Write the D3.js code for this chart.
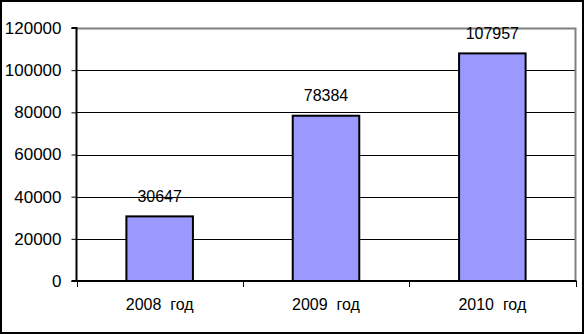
<!DOCTYPE html>
<html>
  <head>
    <meta charset="utf-8">
    <title>Bar chart by year</title>
    <script src="https://cdn.jsdelivr.net/npm/d3@7"></script>
    <style>
      body { margin: 0; background: #fff; }
      text { font-family: "Liberation Sans", Arial, sans-serif; fill: #000; }
    </style>
  </head>
  <body>
    <div id="main"></div>
    <script>
      var WIDTH = 584, HEIGHT = 334;
      var LEFT = 76.5, RIGHT = 575.5, TOP = 28, BOTTOM = 281; // plot area

      var categories = ["2008  год", "2009  год", "2010  год"];
      var values = [30647, 78384, 107957];
      var yTicks = [0, 20000, 40000, 60000, 80000, 100000, 120000];

      var svg = d3.select('#main').append('svg')
                  .attr('width', WIDTH).attr('height', HEIGHT);

      // outer frame
      svg.append('rect')
        .attr('x', 1).attr('y', 1)
        .attr('width', WIDTH - 2).attr('height', HEIGHT - 2)
        .attr('fill', '#fff').attr('stroke', '#000').attr('stroke-width', 2);

      var x = d3.scaleBand().domain(categories).range([LEFT, RIGHT]).paddingInner(0.6).paddingOuter(0.3);
      var xOuter = d3.scaleBand().domain(categories).range([LEFT, RIGHT]);
      var y = d3.scaleLinear().domain([0, 120000]).range([BOTTOM, TOP]);

      // gridlines
      svg.selectAll('.grid').data(yTicks.slice(1, -1))
        .enter().append('line')
          .attr('class', 'grid')
          .attr('x1', LEFT).attr('x2', RIGHT)
          .attr('y1', function(d) { return Math.round(y(d)) + 0.5; })
          .attr('y2', function(d) { return Math.round(y(d)) + 0.5; })
          .attr('stroke', '#000');

      // plot area border (gray)
      svg.append('path')
        .attr('d', 'M' + LEFT + ',' + (TOP + 0.5) + 'H' + RIGHT + 'V' + BOTTOM)
        .attr('fill', 'none').attr('stroke', '#808080').attr('stroke-width', 2);

      // bars
      svg.selectAll('.bar').data(values)
        .enter().append('rect')
          .attr('class', 'bar')
          .attr('x', function(d, i) { return x(categories[i]); })
          .attr('width', x.bandwidth())
          .attr('y', function(d) { return y(d); })
          .attr('height', function(d) { return BOTTOM - y(d); })
          .attr('fill', '#9999ff').attr('stroke', '#000').attr('stroke-width', 2);

      // value labels
      svg.selectAll('.val').data(values)
        .enter().append('text')
          .attr('class', 'val')
          .attr('x', function(d, i) { return x(categories[i]) + x.bandwidth() / 2; })
          .attr('y', function(d) { return y(d) - 14.5; })
          .attr('text-anchor', 'middle')
          .style('font-size', '16px')
          .text(function(d) { return d; });

      // y axis
      var yAxis = d3.axisLeft(y).tickValues(yTicks).tickSize(5).tickPadding(10)
                    .tickFormat(d3.format('d'));
      var gy = svg.append('g').attr('transform', 'translate(' + LEFT + ',0)').call(yAxis);
      gy.select('.domain').attr('stroke', '#000').attr('stroke-width', 2)
        .attr('d', 'M-5,' + TOP + 'H0V' + BOTTOM + 'H-5');
      gy.selectAll('.tick line').attr('stroke', '#000');
      gy.selectAll('.tick text').style('font-size', '17px')
        .style('font-family', '"Liberation Sans", Arial, sans-serif').attr('fill', '#000');

      // x axis
      svg.append('line')
        .attr('x1', LEFT).attr('x2', RIGHT + 1)
        .attr('y1', BOTTOM).attr('y2', BOTTOM)
        .attr('stroke', '#000').attr('stroke-width', 2);
      var bounds = categories.map(function(c) { return xOuter(c); }).concat([RIGHT]);
      svg.selectAll('.xtick').data(bounds)
        .enter().append('line')
          .attr('class', 'xtick')
          .attr('x1', function(d) { return Math.round(d) + 0.5; })
          .attr('x2', function(d) { return Math.round(d) + 0.5; })
          .attr('y1', BOTTOM).attr('y2', BOTTOM + 6)
          .attr('stroke', '#000');
      svg.selectAll('.xlab').data(categories)
        .enter().append('text')
          .attr('class', 'xlab')
          .attr('x', function(c) { return xOuter(c) + xOuter.bandwidth() / 2; })
          .attr('y', BOTTOM + 28.5)
          .attr('text-anchor', 'middle')
          .style('font-size', '16px')
          .style('white-space', 'pre')
          .text(function(c) { return c; });
    </script>
  </body>
</html>
